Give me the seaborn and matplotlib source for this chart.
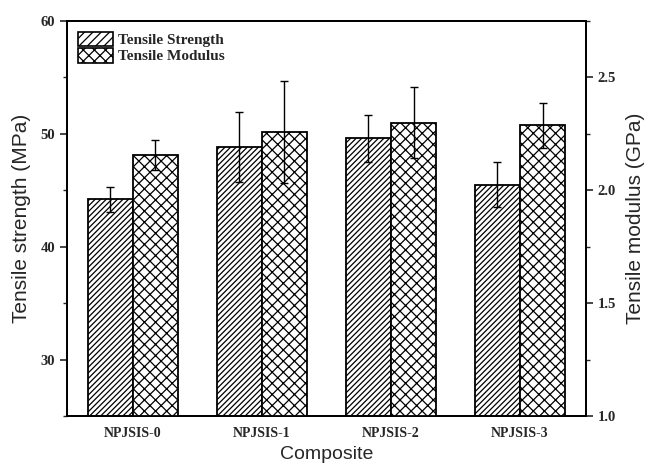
import matplotlib
matplotlib.use("Agg")
import matplotlib.pyplot as plt
from matplotlib.patches import Patch
from matplotlib.ticker import MultipleLocator
import seaborn as sns
import pandas as pd

# Composite samples and measured tensile properties
composites = ["NPJSIS-0", "NPJSIS-1", "NPJSIS-2", "NPJSIS-3"]
strength_mpa = [44.2, 48.8, 49.6, 45.5]
strength_err = [1.1, 3.1, 2.1, 2.0]
modulus_gpa = [2.155, 2.257, 2.300, 2.288]
modulus_err = [0.066, 0.225, 0.156, 0.100]
series = ["Tensile Strength", "Tensile Modulus"]

sns.set_style("ticks")
plt.rcParams["font.family"] = ["Liberation Sans", "DejaVu Sans"]
plt.rcParams["hatch.linewidth"] = 0.9

df_s = pd.DataFrame({"Composite": composites, "value": strength_mpa,
                     "Property": series[0]})
df_m = pd.DataFrame({"Composite": composites, "value": modulus_gpa,
                     "Property": series[1]})

fig = plt.figure(figsize=(6.48, 4.66), dpi=100)
ax = fig.add_axes([0.1034, 0.1073, 0.8006, 0.8477])
ax2 = ax.twinx()

# strength on the left scale, modulus on the right scale, side by side
common = dict(x="Composite", y="value", hue="Property", hue_order=series,
              order=composites, width=0.7, dodge=True, errorbar=None,
              legend=False, linewidth=1.3, edgecolor="black")
sns.barplot(data=df_s, ax=ax, palette=["white", "white"], **common)
sns.barplot(data=df_m, ax=ax2, palette=["white", "white"], **common)

STRENGTH_HATCH = "//////"
MODULUS_HATCH = "xxx"
for p in ax.patches:
    p.set_hatch(STRENGTH_HATCH)
for p in ax2.patches:
    p.set_hatch(MODULUS_HATCH)
    if hasattr(p, "set_hatchcolor"):
        p.set_hatchcolor("#2a2a2a")

def add_errors(axis, vals, errs):
    bars = [p for p in axis.patches if p.get_height() > 0]
    bars.sort(key=lambda b: b.get_x())
    xs = [b.get_x() + b.get_width() / 2 for b in bars]
    axis.errorbar(xs, vals, yerr=errs, fmt="none", ecolor="black",
                  elinewidth=1.0, capsize=3, capthick=1.0, zorder=5)

add_errors(ax, strength_mpa, strength_err)
add_errors(ax2, modulus_gpa, modulus_err)

ax.set_xlim(-0.51, 3.51)
ax.set_ylim(25, 60)
ax2.set_ylim(1.0, 2.75)
ax.yaxis.set_major_locator(MultipleLocator(10))
ax.yaxis.set_minor_locator(MultipleLocator(5))
ax.set_yticks([30, 40, 50, 60])
ax2.yaxis.set_major_locator(MultipleLocator(0.5))
ax2.yaxis.set_minor_locator(MultipleLocator(0.25))
ax2.set_yticks([1.0, 1.5, 2.0, 2.5])

ytick_font = dict(family="Liberation Serif", weight="bold", size=10.5)
xtick_font = dict(family="Liberation Serif", weight="bold", size=10)
ax.set_yticklabels(["30", "40", "50", "60"], **ytick_font)
ax2.set_yticklabels(["1.0", "1.5", "2.0", "2.5"], **ytick_font)
ax.set_xticks(range(len(composites)))
ax.set_xticklabels(composites, **xtick_font)
ax.tick_params(axis="x", length=0, pad=8)
ax.tick_params(axis="y", which="major", length=5, width=1.2, direction="out")
ax.tick_params(axis="y", which="minor", length=3, width=1.0, direction="out")
ax2.tick_params(axis="y", which="major", length=5, width=1.2, direction="out")
ax2.tick_params(axis="y", which="minor", length=3, width=1.0, direction="out")

ax.set_xlabel("Composite", fontsize=14, labelpad=4)
ax.set_ylabel("Tensile strength (MPa)", fontsize=15, labelpad=7)
ax2.set_ylabel("Tensile modulus (GPa)", fontsize=15, labelpad=7)
ax2.set_xlabel("")

for a in (ax, ax2):
    for s in a.spines.values():
        s.set_linewidth(1.3)
        s.set_color("black")

handles = [Patch(facecolor="white", edgecolor="black", linewidth=1.2,
                 hatch="////", label=series[0]),
           Patch(facecolor="white", edgecolor="black", linewidth=1.2,
                 hatch="xxx", label=series[1])]
ax2.legend(handles=handles, loc="upper left", frameon=False,
           prop=dict(family="Liberation Serif", weight="bold", size=11),
           handlelength=2.3, handleheight=1.1, handletextpad=0.35,
           labelspacing=0.05, borderaxespad=0.5, borderpad=0.2)

fig.savefig("out.png", dpi=100)
